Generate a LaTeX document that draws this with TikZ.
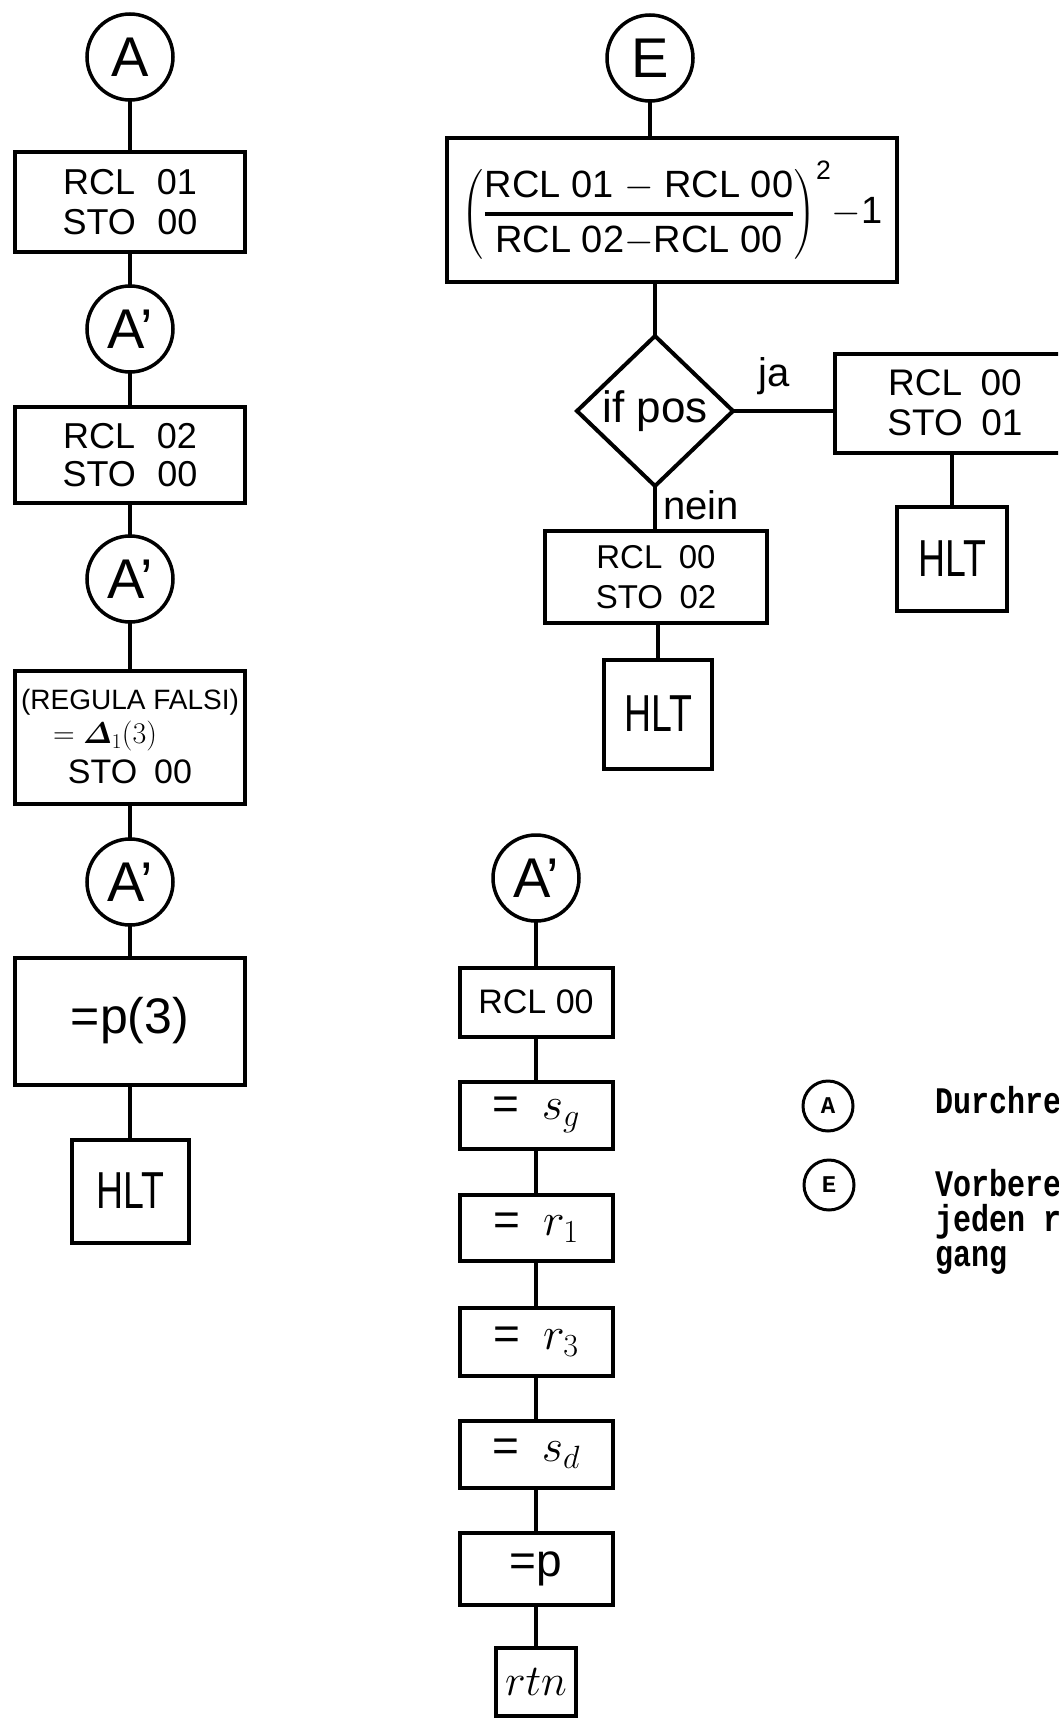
\RequirePackage{fix-cm}
\documentclass[tikz,border=0pt]{standalone}
\usepackage{fontspec}
\usepackage{amsmath}
\usepackage{graphicx}
\setmainfont{Liberation Sans}
\newfontfamily\twfont{Liberation Mono}
\usetikzlibrary{shapes.geometric}
\newcommand\myfs[2]{\fontsize{#1}{#2}\selectfont}
\begin{document}
\begin{tikzpicture}[x=1pt,y=-1pt,
  every node/.style={inner sep=0pt,outer sep=0pt},
  bx/.style={draw,line width=4pt,rectangle,align=center},
  cc/.style={draw,circle,line width=3.5pt,minimum size=86pt,font=\myfs{56}{60}},
  ln/.style={line width=4pt},
  hlt/.style={bx,font=\myfs{52}{56}},
  lg/.style={draw,circle,line width=3pt,minimum size=50pt,font=\twfont\bfseries\myfs{24}{24}},
  lt/.style={anchor=base west,font=\twfont\bfseries\myfs{30}{34}},
  lab/.style={font=\myfs{40}{44}}]
\useasboundingbox (0,0) rectangle (1058,1720);
\clip (0,0) rectangle (1058,1720);
\fill[white] (0,0) rectangle (1058,1720);

% left column
\node[cc] (cA) at (130,57) {A};
\node[bx,minimum width=230pt,minimum height=100pt,font=\myfs{36}{40}] (b1) at (130,202) {RCL\hspace{0.6em}01\\STO\hspace{0.6em}00};
\node[cc] (cA1) at (130,329) {A'};
\node[bx,minimum width=230pt,minimum height=96pt,font=\myfs{36}{38}] (b2) at (130,455) {RCL\hspace{0.6em}02\\STO\hspace{0.6em}00};
\node[cc] (cA2) at (130,579) {A'};
\node[bx,minimum width=230pt,minimum height=133pt,font=\myfs{28}{38}] (b3) at (130,737) {(REGULA FALSI)\\[-4pt]{\myfs{30}{38}\mbox{$=\boldsymbol{\varDelta}_{1}(3)$\hspace{50pt}}}\\[2pt]{\myfs{34}{38}STO\hspace{0.5em}00}};
\node[cc] (cA3) at (130,882) {A'};
\node[bx,minimum width=230pt,minimum height=127pt,font=\myfs{50}{56}] (b4) at (130,1021) {=p(3)};
\node[hlt,minimum width=117pt,minimum height=103pt] (h1) at (130,1191) {\scalebox{0.72}[1]{HLT}};
\draw[ln] (cA) -- (b1);
\draw[ln] (b1) -- (cA1);
\draw[ln] (cA1) -- (b2);
\draw[ln] (b2) -- (cA2);
\draw[ln] (cA2) -- (b3);
\draw[ln] (b3) -- (cA3);
\draw[ln] (cA3) -- (b4);
\draw[ln] (b4) -- (h1);

% E part
\node[cc] (cE) at (650,58) {E};
\node[bx,minimum width=450pt,minimum height=143pt,font=\myfs{38}{44}] (fr) at (672,210)
  {$\displaystyle\left(\text{RCL 01 $-$ RCL 00}\above 3.5pt\text{RCL 02$-$RCL 00}\right)^{\text{2}}\!{-}\text{1}$};
\draw[ln] (cE.south) -- (cE.south |- fr.north);
\node[draw,diamond,line width=4pt,minimum width=156pt,minimum height=150pt,font=\myfs{44}{48}] (dia) at (655,411) {if pos};
\draw[ln] (dia.north |- fr.south) -- (dia.north);
\node[bx,minimum width=240pt,minimum height=99pt,font=\myfs{37}{40}] (rb) at (955,403) {RCL\hspace{0.5em}00\\STO\hspace{0.5em}01};
\draw[ln] (dia.east) -- (dia.east -| rb.west);
\node[lab] (ja) at (774,376) {ja};
\node[bx,minimum width=222pt,minimum height=92pt,font=\myfs{33}{40}] (lb) at (656,577) {RCL\hspace{0.5em}00\\STO\hspace{0.5em}02};
\draw[ln] (dia.south) -- (dia.south |- lb.north);
\node[lab] (nein) at (701,505) {nein};
\node[hlt,minimum width=108pt,minimum height=109pt] (hl) at (658,714) {\scalebox{0.72}[1]{HLT}};
\draw[ln] (hl.north |- lb.south) -- (hl.north);
\node[hlt,minimum width=110pt,minimum height=104pt] (hr) at (952,559) {\scalebox{0.72}[1]{HLT}};
\draw[ln] (hr.north |- rb.south) -- (hr.north);

% A' subroutine
\node[cc] (cA4) at (536,878) {A'};
\node[bx,minimum width=153pt,minimum height=69pt,font=\myfs{34}{40}] (m1) at (536,1002) {RCL 00};
\node[bx,minimum width=153pt,minimum height=67pt,font=\myfs{46}{48}] (m2) at (536,1115) {=\hspace{0.5em}$s_{g}$};
\node[bx,minimum width=153pt,minimum height=66pt,font=\myfs{46}{48}] (m3) at (536,1228) {=\hspace{0.5em}$r_{1}$};
\node[bx,minimum width=153pt,minimum height=68pt,font=\myfs{46}{48}] (m4) at (536,1342) {=\hspace{0.5em}$r_{3}$};
\node[bx,minimum width=153pt,minimum height=67pt,font=\myfs{46}{48}] (m5) at (536,1454) {=\hspace{0.5em}$s_{d}$};
\node[bx,minimum width=153pt,minimum height=72pt,font=\myfs{46}{48}] (m6) at (536,1569) {=p};
\node[bx,minimum width=80pt,minimum height=68pt,font=\myfs{44}{48}] (m7) at (536,1682) {$rtn$};
\draw[ln] (cA4) -- (m1);
\draw[ln] (m1) -- (m2);
\draw[ln] (m2) -- (m3);
\draw[ln] (m3) -- (m4);
\draw[ln] (m4) -- (m5);
\draw[ln] (m5) -- (m6);
\draw[ln] (m6) -- (m7);

% legend
\node[lg] (lA) at (828,1106) {A};
\node[lg] (lE) at (829,1185) {E};
\node[lt] (t1) at (935,1113) {\scalebox{1}[1.25]{Durchre}};
\node[lt] (t2) at (935,1196) {\scalebox{1}[1.25]{Vorbere}};
\node[lt] (t3) at (935,1231) {\scalebox{1}[1.25]{jeden r}};
\node[lt] (t4) at (935,1266) {\scalebox{1}[1.25]{gang}};
\end{tikzpicture}
\end{document}
